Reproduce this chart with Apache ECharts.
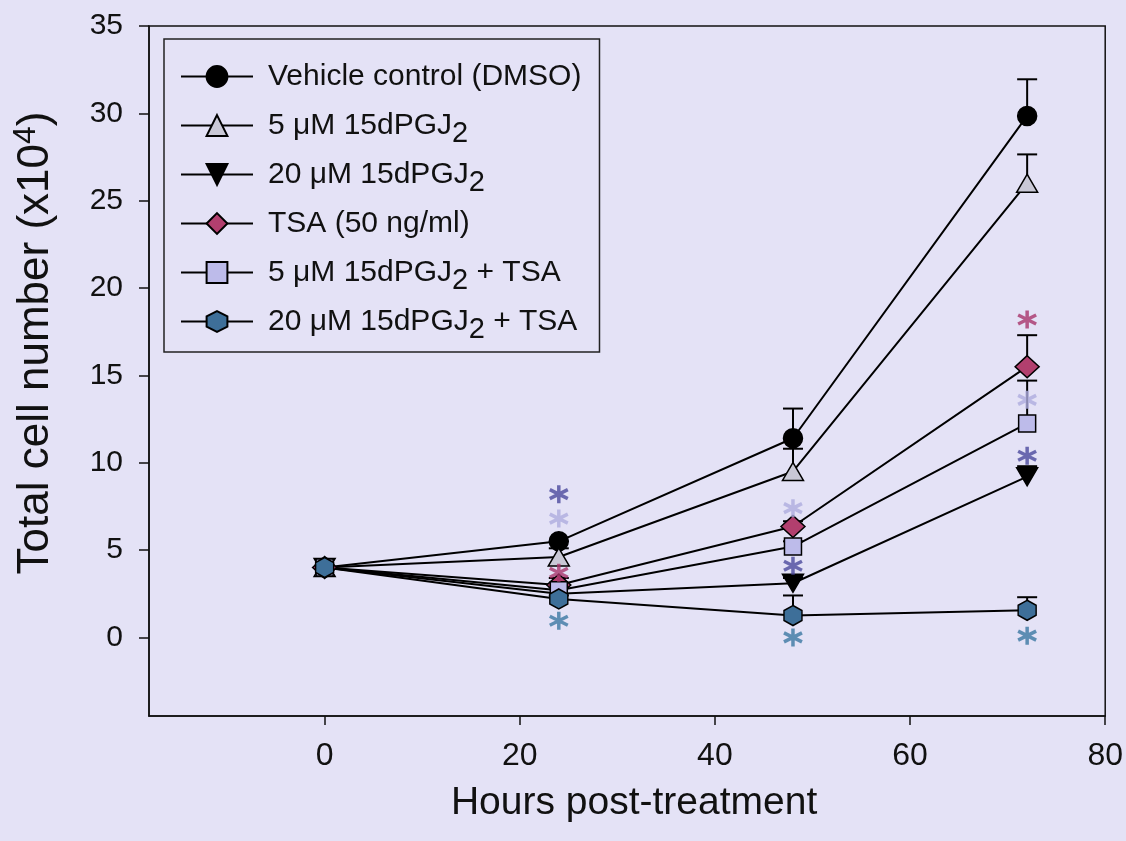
<!DOCTYPE html>
<html><head><meta charset="utf-8">
<script src="https://cdn.jsdelivr.net/npm/echarts@6/dist/echarts.min.js"></script>
<style>html,body{margin:0;padding:0;background:#e4e2f6;} #c{width:1126px;height:841px;}</style>
</head><body><div id="c"></div>
<script>
// ---- data ----
const hours = [0, 24, 48, 72];
const xTicks = [0, 20, 40, 60, 80];
const yTicks = [0, 5, 10, 15, 20, 25, 30, 35];

const names = ['Vehicle control (DMSO)', '5 μM 15dPGJ2', '20 μM 15dPGJ2', 'TSA (50 ng/ml)', '5 μM 15dPGJ2 + TSA', '20 μM 15dPGJ2 + TSA'];

const vehicle   = [4.0, 5.5, 11.4, 29.85];
const pgj5      = [4.0, 4.6, 9.5, 26.0];
const pgj20     = [4.0, 2.5, 3.1, 9.2];
const tsa       = [4.0, 3.0, 6.35, 15.5];
const pgj5Tsa   = [4.0, 2.7, 5.2, 12.25];
const pgj20Tsa  = [4.0, 2.2, 1.25, 1.55];

// upper error (SEM) for each point
const vehicleErr  = [0, 0, 1.7, 2.1];
const pgj5Err     = [0, 0.5, 1.3, 1.65];
const pgj20Err    = [0, 0, 0.3, 0.6];
const tsaErr      = [0, 0.4, 0.3, 1.8];
const pgj5TsaErr  = [0, 0.2, 0.3, 2.45];
const pgj20TsaErr = [0, 0.2, 1.15, 0.75];

// significance asterisks [hour, y]
const astPgj20    = [[24, 8.2], [48, 4.1], [72, 10.4]];
const astPgj5Tsa  = [[24, 6.8], [48, 7.4], [72, 13.6]];
const astTsa      = [[24, 3.7], [72, 18.2]];
const astPgj20Tsa = [[24, 0.95], [48, 0.0], [72, 0.1]];

// ---- chart ----
const values = [vehicle, pgj5, pgj20, tsa, pgj5Tsa, pgj20Tsa];
const errs = [vehicleErr, pgj5Err, pgj20Err, tsaErr, pgj5TsaErr, pgj20TsaErr];
const hexPath = 'path://M0,-10 L8.66,-5 L8.66,5 L0,10 L-8.66,5 L-8.66,-5 Z';
const astPath = 'path://M0,-10 L0,10 M-8.66,-5 L8.66,5 M-8.66,5 L8.66,-5';
const styles = [
  {symbol: 'circle', size: 19, color: '#000000', rot: 0},
  {symbol: 'triangle', size: [21, 18], color: '#c9c8d6', rot: 0},
  {symbol: 'triangle', size: [21, 18], color: '#000000', rot: 180},
  {symbol: 'diamond', size: [24, 22], color: '#b23f6e', rot: 0},
  {symbol: 'rect', size: 17, color: '#bdbbea', rot: 0},
  {symbol: hexPath, size: [18, 20], color: '#3e6f99', rot: 0}
];

const series = [];
values.forEach((vals, i) => {
  series.push({
    name: 'err' + i, type: 'custom', z: 2,
    data: hours.map((h, k) => [h, vals[k], vals[k] + errs[i][k]]),
    renderItem: (params, api) => {
      if (api.value(2) <= api.value(1)) return null;
      const p0 = api.coord([api.value(0), api.value(1)]);
      const p1 = api.coord([api.value(0), api.value(2)]);
      const w = 10;
      return {type: 'group', children: [
        {type: 'line', shape: {x1: p0[0], y1: p0[1], x2: p1[0], y2: p1[1]}, style: {stroke: '#000', lineWidth: 2}},
        {type: 'line', shape: {x1: p1[0] - w, y1: p1[1], x2: p1[0] + w, y2: p1[1]}, style: {stroke: '#000', lineWidth: 2}}
      ]};
    },
    silent: true
  });
});
values.forEach((vals, i) => {
  const st = styles[i];
  series.push({
    name: names[i], type: 'line', z: 3,
    data: hours.map((h, k) => [h, vals[k]]),
    symbol: st.symbol, symbolSize: st.size, symbolRotate: st.rot,
    showAllSymbol: true,
    lineStyle: {color: '#000', width: 2},
    itemStyle: {color: st.color, borderColor: '#000', borderWidth: 1.5},
    emphasis: {disabled: true},
    animation: false
  });
});
const astSets = [[astPgj20, '#4b4a9e'], [astPgj5Tsa, '#aeaddf'], [astTsa, '#a8346b'], [astPgj20Tsa, '#3b78a2']];
astSets.forEach(([pts, col], j) => {
  series.push({
    name: 'ast' + j, type: 'scatter', z: 4, data: pts, symbol: astPath, symbolSize: 18,
    itemStyle: {color: 'none', borderColor: col, borderWidth: 3.5},
    emphasis: {disabled: true}, silent: true
  });
});

const fmtName = (n) => {
  const parts = n.split('15dPGJ2');
  if (parts.length === 1) return '{f|' + n + '}{sub| }';
  return '{f|' + parts[0] + '15dPGJ}{sub|2}' + (parts[1] ? '{t|' + parts[1] + '}' : '');
};
const FF = 'Liberation Sans, Arial, sans-serif';

const chart = echarts.init(document.getElementById('c'));
chart.setOption({
  backgroundColor: '#e4e2f6',
  animation: false,
  textStyle: {fontFamily: FF, color: '#111'},
  grid: {left: 149, right: 20, top: 26, bottom: 125, show: true, borderColor: '#111', borderWidth: 1.5, backgroundColor: 'transparent'},
  legend: {
    data: names, orient: 'vertical', left: 164, top: 39,
    padding: [15, 10, 8, 16], itemGap: 4, itemWidth: 72, itemHeight: 26,
    borderColor: '#222', borderWidth: 1.5, backgroundColor: 'transparent',
    formatter: fmtName,
    textStyle: {
      rich: {
        f: {fontSize: 30, lineHeight: 42, color: '#111', fontFamily: FF, padding: [0, 0, 0, 10]},
        t: {fontSize: 30, lineHeight: 42, color: '#111', fontFamily: FF},
        sub: {fontSize: 29, lineHeight: 26, padding: [16, 0, 0, 0], color: '#111', fontFamily: FF}
      }
    },
    selectedMode: false
  },
  xAxis: {
    type: 'value', min: -18, max: 80,
    splitLine: {show: false},
    axisLine: {show: true, onZero: false, lineStyle: {color: '#111', width: 1.5}},
    axisTick: {show: true, length: 9, lineStyle: {color: '#111', width: 1.5}, customValues: xTicks},
    axisLabel: {fontSize: 32, color: '#111', margin: 24, customValues: xTicks},
    name: 'Hours post-treatment', nameLocation: 'middle', nameGap: 68,
    nameTextStyle: {fontSize: 39, color: '#111', padding: [0, 0, 0, 14]}
  },
  yAxis: {
    type: 'value', min: -4.5, max: 35,
    splitLine: {show: false},
    axisLine: {show: true, onZero: false, lineStyle: {color: '#111', width: 1.5}},
    axisTick: {show: true, length: 10, lineStyle: {color: '#111', width: 1.5}, customValues: yTicks},
    axisLabel: {fontSize: 30, color: '#111', margin: 26, customValues: yTicks},
    name: '{t|Total cell number (x10}{sup|4}{t|)}', nameLocation: 'middle', nameGap: 88, nameRotate: 90,
    nameTextStyle: {
      padding: [0, 0, 0, 56],
      rich: {
        t: {fontSize: 44, color: '#111', lineHeight: 50, fontFamily: FF},
        sup: {fontSize: 32, color: '#111', lineHeight: 50, padding: [0, 0, 20, 0], fontFamily: FF}
      }
    }
  },
  series: series
});
</script></body></html>
